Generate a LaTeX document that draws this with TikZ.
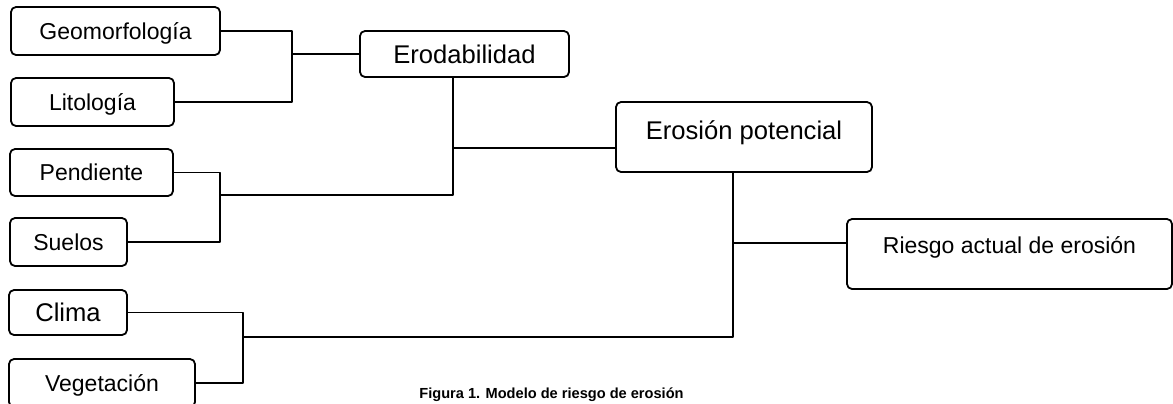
\documentclass[tikz,border=0pt]{standalone}
\usepackage{fontspec}
\setmainfont{Liberation Sans}
\begin{document}
\begin{tikzpicture}[line cap=round,line join=round,x=0.5pt,y=-0.5pt,
	caja/.style={draw,line width=0.9pt,rounded corners=2.5pt,inner sep=0pt,font=\fontsize{11.5}{13}\selectfont,text height=8.2pt,text depth=0pt},
	cajag/.style={caja,font=\fontsize{12.8}{15}\selectfont,text height=9.2pt},
	linea/.style={line width=0.9pt}]
			\useasboundingbox (0,0) rectangle (1173,403);
			\clip (0,0) rectangle (1173,403);
			\node [caja,minimum width=104.5pt,minimum height=24pt] (geo) at (115.5,31) {Geomorfología};
			\node [caja,minimum width=81.5pt,minimum height=24pt] (lito) at (92.5,102) {Litología};
			\node [caja,minimum width=81.5pt,minimum height=23.5pt] (pend) at (91.5,172.5) {Pendiente};
			\node [caja,minimum width=58.5pt,minimum height=24pt] (suel) at (68.5,242) {Suelos};
			\node [cajag,minimum width=59pt,minimum height=22.5pt] (clim) at (68,312.5) {Clima};
			\node [caja,minimum width=93pt,minimum height=24pt] (veget) at (102,383) {Vegetación};
			\node [cajag,minimum width=104.5pt,minimum height=23pt] (erod) at (464.5,54) {Erodabilidad};
			\node [cajag,minimum width=128pt,minimum height=35pt,text height=9pt,text depth=6.8pt] (erop) at (744,137) {Erosión potencial};
			\node [caja,minimum width=162.5pt,minimum height=35pt,text height=8.5pt,text depth=9.3pt] (riesgo) at (1009.5,254) {Riesgo actual de erosión};
			\node [font=\bfseries\fontsize{7.3}{9}\selectfont,anchor=base] (pie) at (551.5,398.5) {Figura 1. Modelo de riesgo de erosión};
			\coordinate (j1) at (292,54);
			\coordinate (j2) at (220,195);
			\coordinate (j3) at (453,148);
			\coordinate (j4) at (243,337);
			\coordinate (j5) at (733,243);
			\draw [linea] (geo.east) -| (j1) |- (lito.east);
			\draw [linea] (j1) -- (erod.west);
			\draw [linea] (pend.east) -| (j2) |- (suel.east);
			\draw [linea] (j2) -| (j3) -- (erod.south -| j3);
			\draw [linea] (j3) -- (erop.west |- j3);
			\draw [linea] (clim.east) -| (j4) |- (veget.east);
			\draw [linea] (j4) -| (j5) -- (erop.south -| j5);
			\draw [linea] (j5) -- (riesgo.west |- j5);
		\end{tikzpicture}
\end{document}
